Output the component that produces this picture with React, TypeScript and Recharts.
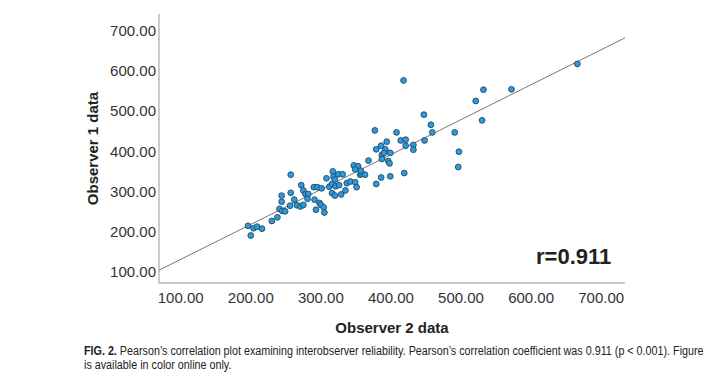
import React from 'react';
import { ScatterChart, Scatter, XAxis, YAxis, ReferenceLine } from 'recharts';

// observer 2 (x) vs observer 1 (y)
const observer2 = [
  196, 200, 204, 209, 216, 230, 238, 241, 245, 249, 244, 244, 257, 257, 256, 262,
  266, 271, 275, 272, 275, 278, 282, 281, 290, 295, 291, 298, 293, 300, 304, 305,
  301, 308, 317, 318, 325, 331, 312, 316, 321, 326, 320, 316, 320, 329, 335, 337,
  342, 349, 351, 347, 353, 349, 356, 358, 363, 357, 368, 379, 386, 399, 419, 386,
  379, 394, 392, 387, 390, 399, 387, 396, 398, 377, 408, 414, 421, 421, 432, 432,
  448, 447, 457, 459, 491, 497, 496, 530, 521, 532, 572, 666, 418,
];
const observer1 = [
  215, 191, 209, 213, 208, 227, 236, 257, 252, 251, 275, 290, 342, 297, 265, 280,
  266, 263, 267, 316, 303, 294, 294, 282, 311, 311, 280, 272, 255, 267, 261, 248,
  308, 333, 350, 337, 343, 343, 312, 319, 313, 316, 330, 296, 290, 293, 303, 321,
  325, 323, 311, 365, 363, 355, 342, 345, 342, 352, 377, 319, 335, 338, 346, 414,
  405, 424, 405, 391, 396, 396, 381, 376, 370, 452, 447, 427, 429, 414, 416, 404,
  427, 491, 466, 447, 447, 399, 361, 477, 525, 553, 554, 617, 576,
];

const xTicks = [100, 200, 300, 400, 500, 600, 700];
const yTicks = [100, 200, 300, 400, 500, 600, 700];
const xDomain = [69, 734];
const yDomain = [73, 741];

// fit line y = a + b*x
const fitIntercept = 45;
const fitSlope = 0.8674;
const rText = 'r=0.911';

const points = observer2.map((x, i) => ({ x, y: observer1[i] }));

const font = "Arial, 'Liberation Sans', sans-serif";

const Dot = (props: any) => (
  <circle cx={props.cx} cy={props.cy} r={2.9} fill="#2b9be0" stroke="#27465e" strokeWidth={0.9} />
);

const YLabel = (props: any) => {
  const vb = props.viewBox;
  const cx = vb.x + 92;
  const cy = vb.y + vb.height / 2;
  return (
    <text x={cx} y={cy} transform={`rotate(-90, ${cx}, ${cy})`} textAnchor="middle" dominantBaseline="central"
      fontFamily={font} fontWeight="bold" fontSize={15} fill="#222">
      Observer 1 data
    </text>
  );
};

export default function App() {
  return (
    <div style={{ position: 'absolute', left: 0, top: 0, width: 728, height: 380, background: '#fff', fontFamily: font }}>
      <ScatterChart width={728} height={340} margin={{ top: 14, right: 103, bottom: 0, left: 0 }}>
        <XAxis
          type="number"
          dataKey="x"
          domain={xDomain}
          ticks={xTicks}
          allowDataOverflow
          height={57}
          tickLine={false}
          tickSize={0}
          tickMargin={9}
          tickFormatter={(v: number) => v.toFixed(2)}
          tick={{ fill: '#333', fontSize: 15, fontFamily: font }}
          axisLine={{ stroke: '#999' }}
          label={{ value: 'Observer 2 data', position: 'insideBottom', offset: 7, fill: '#222', fontSize: 15, fontWeight: 'bold', fontFamily: font }}
        />
        <YAxis
          type="number"
          dataKey="y"
          domain={yDomain}
          ticks={yTicks}
          allowDataOverflow
          width={159}
          tickLine={false}
          tickSize={0}
          tickMargin={3}
          tickFormatter={(v: number) => v.toFixed(2)}
          tick={{ fill: '#333', fontSize: 15, fontFamily: font }}
          axisLine={{ stroke: '#999' }}
          label={<YLabel />}
        />
        <ReferenceLine
          segment={[
            { x: xDomain[0], y: fitIntercept + fitSlope * xDomain[0] },
            { x: xDomain[1], y: fitIntercept + fitSlope * xDomain[1] },
          ]}
          stroke="#777"
          strokeWidth={1}
          ifOverflow="hidden"
        />
        <Scatter data={points} shape={<Dot />} isAnimationActive={false} />
      </ScatterChart>
      <div style={{ position: 'absolute', left: 536, top: 244, fontSize: 22, fontWeight: 'bold', color: '#222' }}>{rText}</div>
      <div style={{ position: 'absolute', left: 84, top: 344, width: 740, fontSize: 12.5, lineHeight: '14px', color: '#222', whiteSpace: 'nowrap', transform: 'scaleX(0.86)', transformOrigin: 'left top' }}>
        <b>FIG. 2.</b> Pearson’s correlation plot examining interobserver reliability. Pearson’s correlation coefficient was 0.911 (p &lt; 0.001). Figure
        <br />
        is available in color online only.
      </div>
    </div>
  );
}
